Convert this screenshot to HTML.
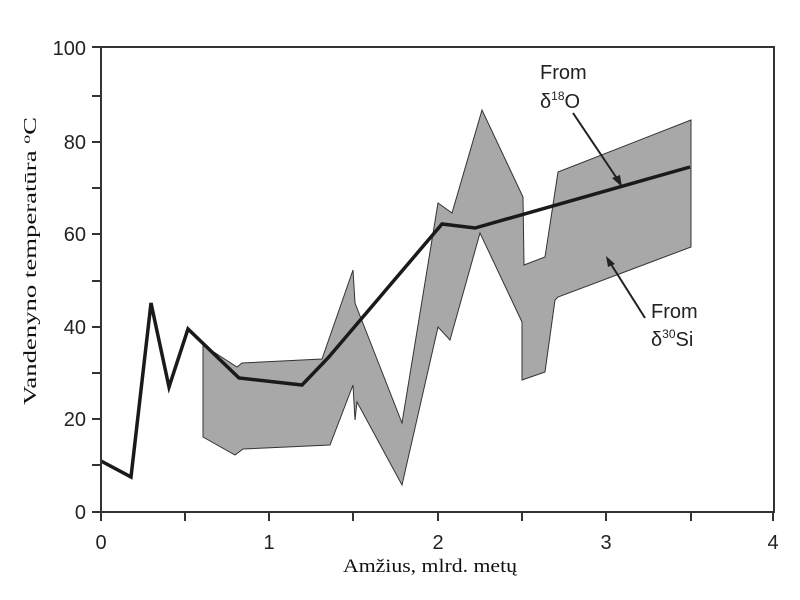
<!DOCTYPE html>
<html><head><meta charset="utf-8"><style>
html,body{margin:0;padding:0;background:#fff;}
svg{display:block;}
.t{font-family:"Liberation Sans",sans-serif;font-size:20px;fill:#222;}
.s{font-family:"Liberation Serif",serif;fill:#111;}
</style></head><body>
<svg width="800" height="600" viewBox="0 0 800 600">
<polygon points="203,345 237,367 242,363 322,359 353,270 355,303 402,423 438,203 452,213 482,110 523,197 524,265 545,257 558,172 691,120 691,247 558,297 555,300 545,372 522,380 522,322 480,233 450,340 438,327 402,485 357,402 355,420 353,385 330,445 243,449 235,455 203,437" fill="#a8a8a8" stroke="#333" stroke-width="1"/>
<polyline points="101,461 131,477 151,303 169,387 188,329 239,378 302,385 328,358 442,224 475,228 690,167" fill="none" stroke="#1a1a1a" stroke-width="3.5" stroke-linejoin="miter"/>
<rect x="101" y="47" width="673" height="465" fill="none" stroke="#333" stroke-width="2"/>
<g stroke="#333" stroke-width="2">
<line x1="92" y1="512" x2="101" y2="512"/><line x1="92" y1="465" x2="101" y2="465"/><line x1="92" y1="419" x2="101" y2="419"/><line x1="92" y1="373" x2="101" y2="373"/><line x1="92" y1="327" x2="101" y2="327"/><line x1="92" y1="281" x2="101" y2="281"/><line x1="92" y1="234" x2="101" y2="234"/><line x1="92" y1="188" x2="101" y2="188"/><line x1="92" y1="142" x2="101" y2="142"/><line x1="92" y1="96" x2="101" y2="96"/><line x1="92" y1="47" x2="101" y2="47"/>
<line x1="101" y1="512" x2="101" y2="521"/><line x1="185" y1="512" x2="185" y2="521"/><line x1="269" y1="512" x2="269" y2="521"/><line x1="353" y1="512" x2="353" y2="521"/><line x1="438" y1="512" x2="438" y2="521"/><line x1="522" y1="512" x2="522" y2="521"/><line x1="606" y1="512" x2="606" y2="521"/><line x1="691" y1="512" x2="691" y2="521"/><line x1="773" y1="512" x2="773" y2="521"/>
</g>
<g class="t" text-anchor="end">
<text x="86" y="519">0</text><text x="86" y="426">20</text><text x="86" y="334">40</text><text x="86" y="241">60</text><text x="86" y="149">80</text><text x="86" y="55">100</text>
</g>
<g class="t" text-anchor="middle">
<text x="101" y="549">0</text><text x="269" y="549">1</text><text x="438" y="549">2</text><text x="606" y="549">3</text><text x="773" y="549">4</text>
</g>
<text class="s" x="343" y="572" font-size="19" textLength="174" lengthAdjust="spacingAndGlyphs">Amžius, mlrd. metų</text>
<text class="s" transform="translate(36,405) rotate(-90)" font-size="18" textLength="288" lengthAdjust="spacingAndGlyphs">Vandenyno temperatūra <tspan font-size="12" dy="-6">o</tspan><tspan dy="6">C</tspan></text>
<text class="t" x="540" y="79">From</text>
<text class="t" x="540" y="108">δ<tspan font-size="12" dy="-8">18</tspan><tspan dy="8">O</tspan></text>
<text class="t" x="651" y="318">From</text>
<text class="t" x="651" y="346">δ<tspan font-size="12" dy="-8">30</tspan><tspan dy="8">Si</tspan></text>
<g stroke="#222" stroke-width="2">
<line x1="573" y1="113" x2="620" y2="183"/><line x1="645" y1="318" x2="609" y2="261"/>
</g>
<polygon points="622,187 612,178 620,175" fill="#222"/>
<polygon points="606,256 615,264 608,267" fill="#222"/>
</svg>
</body></html>
